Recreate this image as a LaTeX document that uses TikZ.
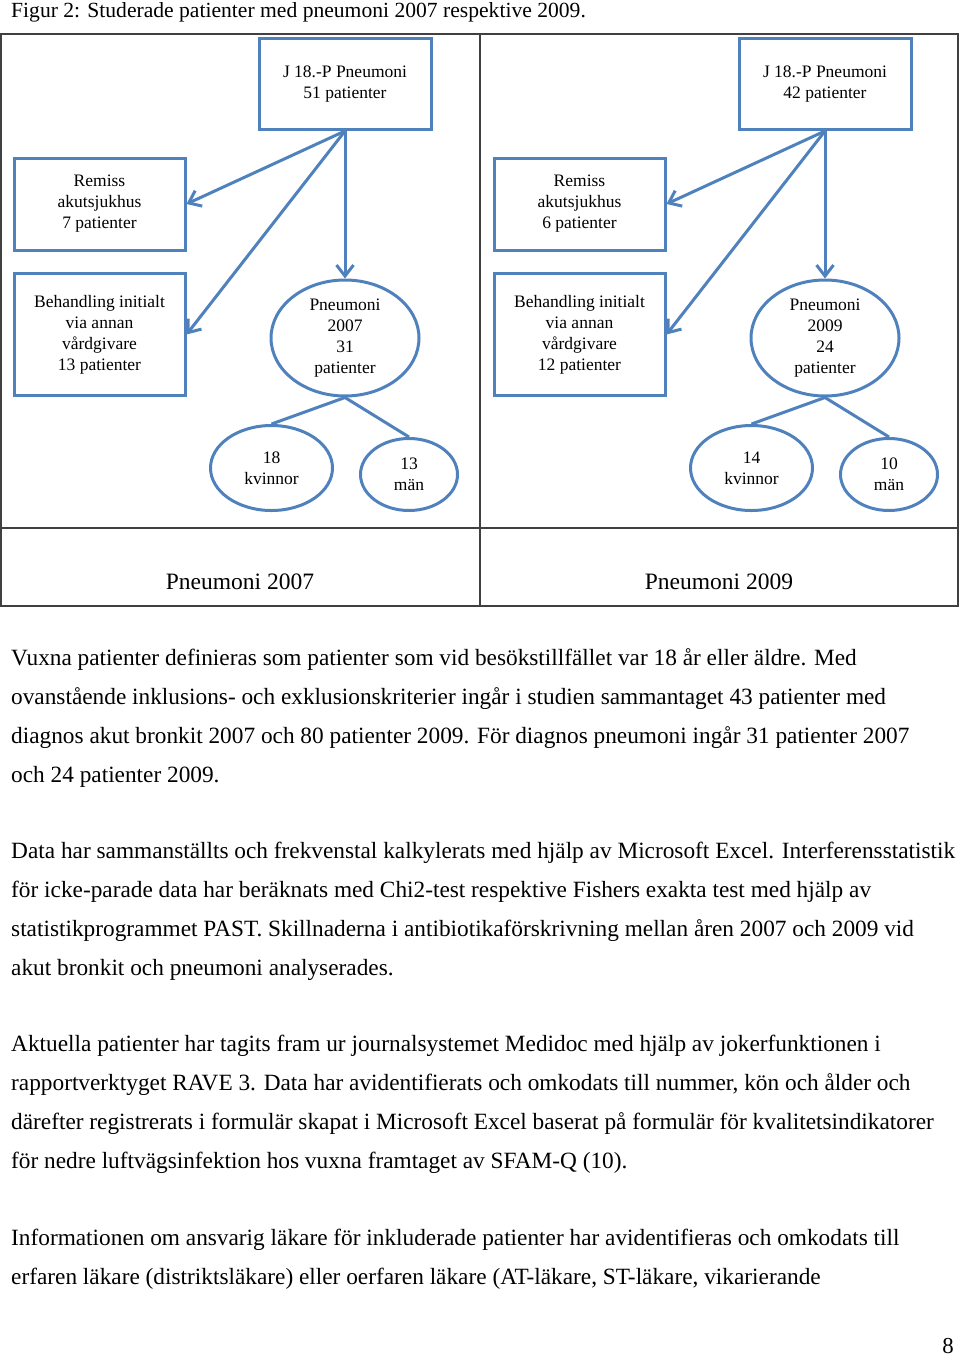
\documentclass[tikz,border=0pt]{standalone}
\usepackage{fontspec}
\setmainfont{Liberation Serif}
\usetikzlibrary{shapes.geometric,arrows.meta}
\definecolor{chartblue}{HTML}{4F81BD}
\definecolor{tablegray}{HTML}{404040}

\begin{document}
\begin{tikzpicture}[x=1pt,y=-1pt]
    \tikzset{box/.style={draw=chartblue,line width=3pt,inner sep=0pt,minimum width=172pt,align=center,font=\fontsize{17.5}{21}\selectfont},
      oval/.style={ellipse,draw=chartblue,line width=3pt,inner sep=0pt,align=center,font=\fontsize{17.5}{21}\selectfont},
      flow/.style={draw=chartblue,line width=3pt},
      tip/.style={-{Straight Barb[length=11pt,width=17pt,line width=3pt]}},
      para/.style={anchor=base west,inner sep=0pt,align=left,font=\fontsize{23.3}{38.7}\selectfont}};
    \useasboundingbox (0,0) rectangle (960,1357);
    \node (fig) at (11,17.5) [anchor=base west,inner sep=0pt,font=\fontsize{21.6}{27}\selectfont]{Figur 2: Studerade patienter med pneumoni 2007 respektive 2009.};
    % table
    \draw[tablegray,line width=1.2pt] (1,34) rectangle (958,606);
    \draw[tablegray,line width=1.2pt] (480,34) -- (480,606);
    \draw[tablegray,line width=1.2pt] (1,528) -- (958,528);
    \node (lab7) at (240,589) [anchor=base,font=\fontsize{23.5}{27}\selectfont]{Pneumoni 2007};
    \node (lab9) at (719,589) [anchor=base,font=\fontsize{23.5}{27}\selectfont]{Pneumoni 2009};
    % 2007
    \node (top7) at (345,84) [box,minimum height=91pt]{J 18.-P Pneumoni\\51 patienter};
    \node (rem7) at (99.5,204) [box,minimum width=171pt,minimum height=92pt]{Remiss\\akutsjukhus\\7 patienter};
    \node (beh7) at (99.5,334.5) [box,minimum width=171pt,minimum height=122pt]{Behandling initialt\\via annan\\vårdgivare\\13 patienter};
    \node (pn7) at (345,338) [oval,minimum width=148pt,minimum height=116pt]{Pneumoni\\2007\\31\\patienter};
    \node (kv7) at (271.5,468) [oval,minimum width=122pt,minimum height=85pt]{18\\kvinnor};
    \node (man7) at (409,474.5) [oval,minimum width=97pt,minimum height=72pt]{13\\män};
    \draw[flow,tip] (top7.south) -- (rem7.east);
    \draw[flow,tip] (top7.south) -- (beh7.east);
    \draw[flow,tip] (top7.south) -- (pn7.north);
    \draw[flow] (pn7.south) -- (kv7.north);
    \draw[flow] (pn7.south) -- (man7.north);
    % 2009
    \node (top9) at (825,84) [box,minimum height=91pt]{J 18.-P Pneumoni\\42 patienter};
    \node (rem9) at (579.5,204) [box,minimum width=171pt,minimum height=92pt]{Remiss\\akutsjukhus\\6 patienter};
    \node (beh9) at (579.5,334.5) [box,minimum width=171pt,minimum height=122pt]{Behandling initialt\\via annan\\vårdgivare\\12 patienter};
    \node (pn9) at (825,338) [oval,minimum width=148pt,minimum height=116pt]{Pneumoni\\2009\\24\\patienter};
    \node (kv9) at (751.5,468) [oval,minimum width=122pt,minimum height=85pt]{14\\kvinnor};
    \node (man9) at (889,474.5) [oval,minimum width=97pt,minimum height=72pt]{10\\män};
    \draw[flow,tip] (top9.south) -- (rem9.east);
    \draw[flow,tip] (top9.south) -- (beh9.east);
    \draw[flow,tip] (top9.south) -- (pn9.north);
    \draw[flow] (pn9.south) -- (kv9.north);
    \draw[flow] (pn9.south) -- (man9.north);
    % text below (base = last line)
    \node (txt1) at (11,782) [para]{Vuxna patienter definieras som patienter som vid besökstillfället var 18 år eller äldre. Med\\
      ovanstående inklusions- och exklusionskriterier ingår i studien sammantaget 43 patienter med\\
      diagnos akut bronkit 2007 och 80 patienter 2009. För diagnos pneumoni ingår 31 patienter 2007\\
      och 24 patienter 2009.};
    \node (txt2) at (11,975) [para]{Data har sammanställts och frekvenstal kalkylerats med hjälp av Microsoft Excel. Interferensstatistik\\
      för icke-parade data har beräknats med Chi2-test respektive Fishers exakta test med hjälp av\\
      statistikprogrammet PAST. Skillnaderna i antibiotikaförskrivning mellan åren 2007 och 2009 vid\\
      akut bronkit och pneumoni analyserades.};
    \node (txt3) at (11,1168) [para]{Aktuella patienter har tagits fram ur journalsystemet Medidoc med hjälp av jokerfunktionen i\\
      rapportverktyget RAVE 3. Data har avidentifierats och omkodats till nummer, kön och ålder och\\
      därefter registrerats i formulär skapat i Microsoft Excel baserat på formulär för kvalitetsindikatorer\\
      för nedre luftvägsinfektion hos vuxna framtaget av SFAM-Q (10).};
    \node (txt4) at (11,1284) [para]{Informationen om ansvarig läkare för inkluderade patienter har avidentifieras och omkodats till\\
      erfaren läkare (distriktsläkare) eller oerfaren läkare (AT-läkare, ST-läkare, vikarierande};
    \node (pnum) at (948,1353) [anchor=base,inner sep=0pt,font=\fontsize{22.8}{27}\selectfont]{8};
\end{tikzpicture}
\end{document}
